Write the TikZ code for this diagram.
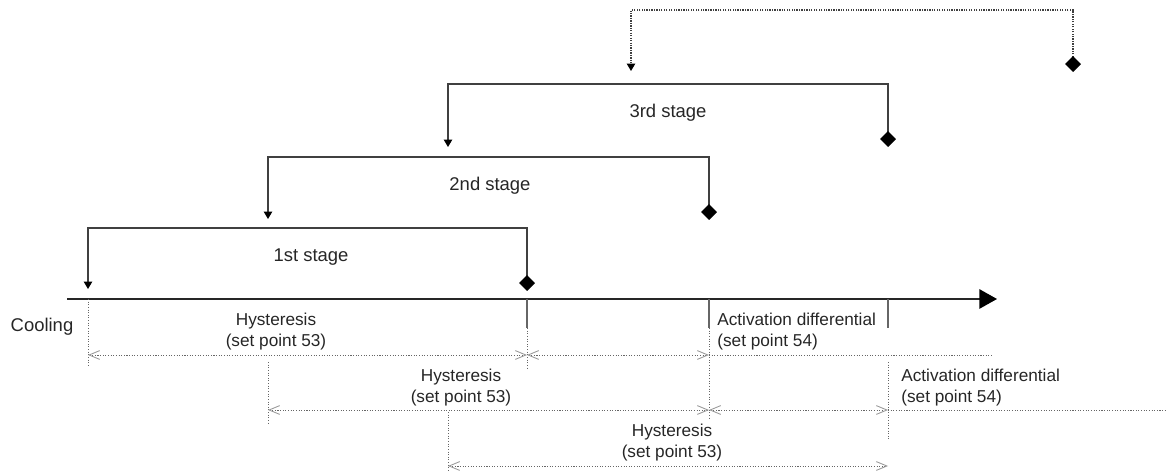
\documentclass[tikz,border=0pt]{standalone}
\usepackage{fontspec}
\setmainfont{Liberation Sans}
\usepackage{xcolor}
\usepackage{tikz}
\usetikzlibrary{arrows.meta}

\begin{document}
\begin{tikzpicture}[
            x=0.02cm,
            y=-0.02cm,
            stage/.style={
                    draw=black!75,
                    line width=0.6pt,
                    {Diamond[length=9pt,width=9pt,color=black]}-{Triangle[length=4.2pt,width=4.8pt,color=black]}
                },
            nextstage/.style={
                    stage,
                    dash pattern=on 0.7pt off 0.7pt
                },
            axis/.style={
                    draw=black!85,
                    line width=0.8pt,
                    -{Triangle[length=10pt,width=11pt,color=black]}
                },
            tick/.style={
                    draw=black!60,
                    line width=0.6pt
                },
            guide/.style={
                    draw=black!60,
                    line width=0.5pt,
                    dash pattern=on 0.6pt off 0.9pt
                },
            dim/.style={
                    guide,
                    {Straight Barb[length=6pt,width=5pt,color=black!40]}-{Straight Barb[length=6pt,width=5pt,color=black!40]}
                },
            stagetext/.style={
                    anchor=base,
                    inner sep=0pt,
                    text=black!85,
                    font=\fontsize{10.5}{12}\selectfont
                },
            dimtext/.style={
                    inner sep=0pt,
                    align=center,
                    text=black!85,
                    font=\fontsize{9.8}{12}\selectfont
                }
        ]

        \useasboundingbox (0,0) rectangle (1166,475);


        \coordinate (ax0) at (67,299);
        \coordinate (ax1) at (997,299);

        \coordinate (a1) at (88,289);
        \coordinate (c1) at (527,228);
        \coordinate (d1) at (527,291);

        \coordinate (a2) at (268,219);
        \coordinate (c2) at (709,157);
        \coordinate (d2) at (709,220);

        \coordinate (a3) at (448,147);
        \coordinate (c3) at (888,84);
        \coordinate (d3) at (888,147);

        \coordinate (a4) at (631,71);
        \coordinate (c4) at (1073,10);
        \coordinate (d4) at (1073,72);


        \draw[stage](d1)--(c1)-|(a1);
        \draw[stage](d2)--(c2)-|(a2);
        \draw[stage](d3)--(c3)-|(a3);
        \draw[nextstage](d4)--(c4)-|(a4);


        \node[stagetext] (st1) at (311,262) {1st stage};
        \node[stagetext] (st2) at (490,191) {2nd stage};
        \node[stagetext] (st3) at (668,118) {3rd stage};
        \node[stagetext] (cool) at (42,332) {Cooling};


        \draw[axis](ax0)--(ax1);

        \draw[tick](d1|-ax0)--++(0,29) coordinate (k1);
        \draw[tick](d2|-ax0)--++(0,29) coordinate (k2);
        \draw[tick](d3|-ax0)--++(0,29) coordinate (k3);


        \coordinate (h1l) at (88,355);
        \coordinate (h1r) at (527,355);
        \coordinate (v1r) at (709,355);
        \coordinate (e1) at (993,355);

        \coordinate (h2l) at (268,410);
        \coordinate (h2r) at (709,410);
        \coordinate (v2r) at (888,410);
        \coordinate (e2) at (1166,410);

        \coordinate (h3l) at (448,466);
        \coordinate (h3r) at (888,466);


        \draw[guide](a1|-ax0)--++(0,68);
        \draw[guide](k1)--++(0,40);
        \draw[guide](k2)--++(0,92);
        \draw[guide](h2l)++(0,-48)--++(0,61);
        \draw[guide](h3l)++(0,-54)--++(0,60);
        \draw[guide](v2r)++(0,-48)--++(0,78);


        \draw[dim](h1l)--(h1r);
        \draw[dim](h1r)--(v1r);
        \draw[guide](v1r)--(e1);

        \draw[dim](h2l)--(h2r);
        \draw[dim](h2r)--(v2r);
        \draw[guide](v2r)--(e2);

        \draw[dim](h3l)--(h3r);


        \node[dimtext] (hy1) at (276,331.5) {Hysteresis\\(set point 53)};
        \node[dimtext,anchor=west,align=left] (ad1) at (717,332) {Activation differential\\(set point 54)};

        \node[dimtext] (hy2) at (461,388) {Hysteresis\\(set point 53)};
        \node[dimtext,anchor=west,align=left] (ad2) at (901,388) {Activation differential\\(set point 54)};

        \node[dimtext] (hy3) at (672,443) {Hysteresis\\(set point 53)};


    \end{tikzpicture}
\end{document}
